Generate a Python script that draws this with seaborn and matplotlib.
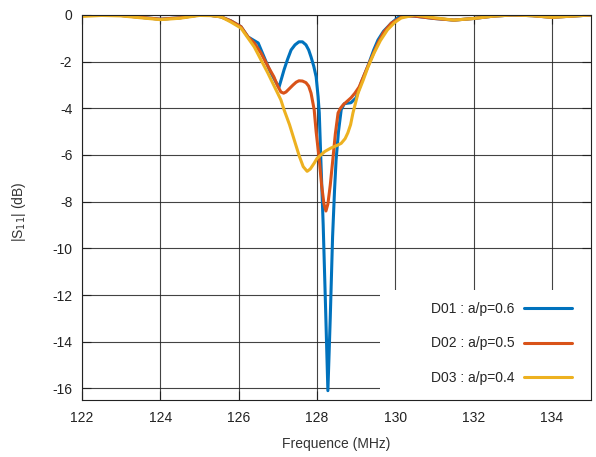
import numpy as np
import pandas as pd
import matplotlib
matplotlib.use("Agg")
import matplotlib.pyplot as plt
import seaborn as sns

# values
x_d01 = [122, 122.5, 123, 123.5, 124, 124.5, 125, 125.3, 125.55, 125.8, 126.06, 126.24,
         126.3, 126.5, 126.65, 126.8, 126.96, 127.03, 127.1, 127.16, 127.25, 127.34,
         127.44, 127.54, 127.63, 127.72, 127.79, 127.85, 127.92, 127.98, 128.03, 128.06,
         128.1, 128.16, 128.22, 128.28, 128.34, 128.4, 128.45, 128.49, 128.55, 128.62,
         128.7, 128.78, 128.87, 129.0, 129.13, 129.3, 129.45, 129.56, 129.7, 129.9,
         130.15, 130.5, 131.0, 131.5, 132.0, 132.5, 133.0, 133.5, 134.0, 134.5, 135]
y_d01 = [-0.02, 0.0, -0.02, -0.1, -0.18, -0.12, 0.0, -0.02, -0.08, -0.25, -0.5, -0.94,
         -1.0, -1.2, -1.8, -2.4, -2.9, -3.1, -2.7, -2.35, -1.9, -1.5,
         -1.28, -1.15, -1.15, -1.28, -1.5, -1.8, -2.2, -2.65, -3.5, -4.2,
         -6.2, -9.0, -12.5, -16.1, -13.0, -9.5, -7.5, -6.2, -5.0, -4.06,
         -3.8, -3.78, -3.76, -3.55, -2.9, -2.2, -1.5, -1.07, -0.7, -0.35,
         0.0, -0.05, -0.15, -0.22, -0.15, -0.05, 0.0, -0.03, -0.1, -0.05, 0.0]

x_d02 = [122, 122.5, 123, 123.5, 124, 124.5, 125, 125.3, 125.55, 125.8, 126.06, 126.24,
         126.4, 126.57, 126.75, 126.9, 127.0, 127.08, 127.15, 127.21, 127.3, 127.39,
         127.47, 127.54, 127.63, 127.72, 127.79, 127.85, 127.93, 127.98, 128.06, 128.12,
         128.18, 128.23, 128.28, 128.34, 128.4, 128.47, 128.54, 128.6, 128.67, 128.77,
         128.87, 128.97, 129.08, 129.2, 129.3, 129.43, 129.56, 129.7, 129.9, 130.2,
         130.5, 131.0, 131.5, 132.0, 132.5, 133.0, 133.5, 134.0, 134.5, 135]
y_d02 = [-0.03, 0.0, -0.02, -0.1, -0.18, -0.12, 0.0, -0.02, -0.08, -0.25, -0.5, -0.94,
         -1.2, -1.63, -2.2, -2.65, -3.05, -3.3, -3.35, -3.3, -3.15, -3.0,
         -2.88, -2.82, -2.83, -2.9, -3.05, -3.35, -4.06, -5.0, -6.2, -7.3,
         -8.1, -8.4, -8.1, -7.3, -6.3, -5.1, -4.2, -4.0, -3.85, -3.7,
         -3.55, -3.35, -3.08, -2.6, -2.2, -1.7, -1.2, -0.75, -0.35, -0.05,
         -0.05, -0.15, -0.22, -0.15, -0.05, 0.0, -0.03, -0.1, -0.05, 0.0]

x_d03 = [122, 122.5, 123, 123.5, 124, 124.5, 125, 125.3, 125.55, 125.8, 126.06, 126.4,
         126.75, 127.08, 127.16, 127.3, 127.42, 127.55, 127.65, 127.75, 127.83, 127.93,
         128.0, 128.1, 128.2, 128.36, 128.5, 128.62, 128.72, 128.79, 128.86, 128.92,
         129.05, 129.18, 129.3, 129.46, 129.62, 129.8, 129.98, 130.15, 130.5, 131.0,
         131.5, 132.0, 132.5, 133.0, 133.5, 134.0, 134.5, 135]
y_d03 = [-0.06, -0.02, -0.04, -0.12, -0.2, -0.14, -0.02, -0.03, -0.08, -0.3, -0.56, -1.37,
         -2.5, -3.64, -4.06, -4.7, -5.35, -6.05, -6.5, -6.7, -6.6, -6.35,
         -6.15, -6.0, -5.85, -5.7, -5.6, -5.5, -5.3, -5.05, -4.7, -4.2,
         -3.35, -2.8, -2.25, -1.63, -1.1, -0.64, -0.33, -0.13, 0.0, -0.12,
         -0.22, -0.15, -0.05, 0.0, -0.03, -0.1, -0.05, 0.0]

labels = ["D01 : a/p=0.6", "D02 : a/p=0.5", "D03 : a/p=0.4"]
colors = ["#0072BD", "#D95319", "#EDB120"]

sns.set_style("ticks")
plt.rcParams["font.family"] = ["Liberation Sans", "DejaVu Sans"]
plt.rcParams["font.size"] = 10
plt.rcParams["axes.unicode_minus"] = False

fig = plt.figure(figsize=(5.96, 4.57), dpi=100)
ax = fig.add_axes([0.1376, 0.1247, 0.854, 0.8425])

series = [(x_d01, y_d01), (x_d02, y_d02), (x_d03, y_d03)]
for (xs, ys), lab, col in zip(series, labels, colors):
    df = pd.DataFrame({"f": xs, "s11": ys})
    sns.lineplot(data=df, x="f", y="s11", ax=ax, color=col, lw=2.2, label=lab, zorder=3)

ax.set_xlim(122, 135)
ax.set_ylim(-16.5, 0)
ax.set_xticks(np.arange(122, 135, 2))
ax.set_yticks(np.arange(-16, 1, 2))
ax.grid(True, color="#222222", lw=0.8, alpha=0.85)
ax.set_axisbelow(True)
ax.tick_params(direction="in", top=True, right=True, length=6.5, width=0.8,
               labelsize=10, colors="#222222")
ax.tick_params(axis="x", pad=8)
ax.tick_params(axis="y", pad=7)
for sp in ax.spines.values():
    sp.set_color("#222222")
    sp.set_linewidth(0.8)
    sp.set_zorder(4)

ax.set_xlabel("Frequence (MHz)", fontsize=10, color="#333333")
ax.set_ylabel("|S$_{11}$| (dB)", fontsize=10, color="#333333")
ax.xaxis.set_label_coords(0.5, -0.096)
ax.yaxis.set_label_coords(-0.106, 0.49)

# white patch behind the legend, hiding the grid there
ax.add_patch(plt.Rectangle((0.585, 0.0), 0.415, 0.286, transform=ax.transAxes,
                           facecolor="white", edgecolor="none", zorder=2))

leg = ax.legend(loc="lower right", bbox_to_anchor=(0.963, 0.04), borderaxespad=0.0,
                markerfirst=False, frameon=False, fontsize=10,
                handlelength=3.45, labelspacing=1.45, borderpad=0.0, handletextpad=0.72)
leg.set_zorder(5)

fig.savefig("out.png", dpi=100)
